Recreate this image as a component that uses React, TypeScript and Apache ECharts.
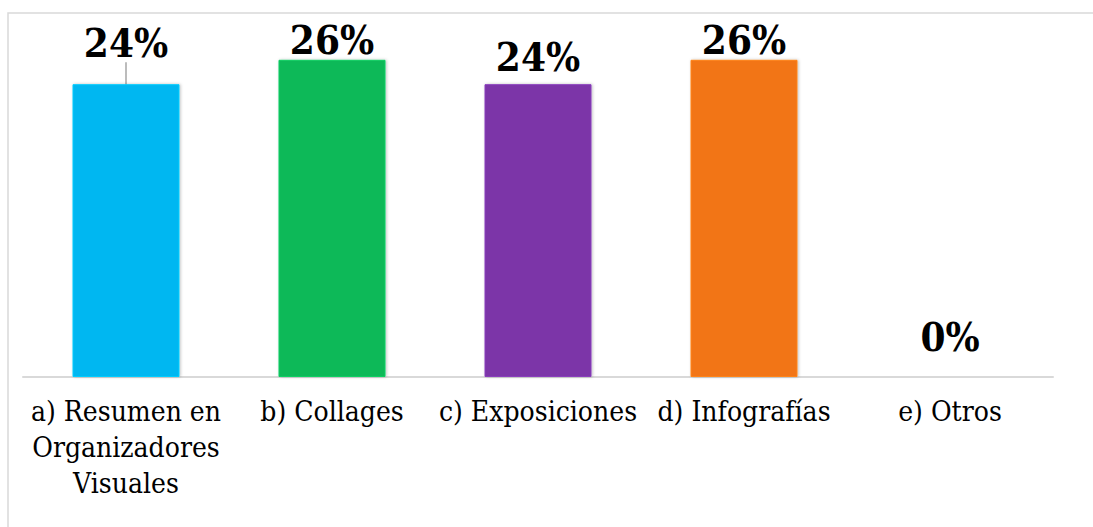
import React, { useEffect, useRef } from "react";
import * as echarts from "echarts";

const categories = [
  "a) Resumen en\nOrganizadores\nVisuales",
  "b) Collages",
  "c) Exposiciones",
  "d) Infografías",
  "e) Otros",
];
const values = [24, 26, 24, 26, 0];
const barColors = ["#00B7F1", "#0AB958", "#7B36A8", "#F27514"];

export default function App() {
  const ref = useRef<HTMLDivElement>(null);
  useEffect(() => {
    if (!ref.current) return;
    const chart = echarts.init(ref.current, null, { renderer: "svg" });
    const data = values.map((v, i) => ({
      value: v,
      itemStyle: {
        color: barColors[i % barColors.length],
        borderColor: echarts.color.lift(barColors[i % barColors.length], -0.12),
        borderWidth: 1,
        shadowColor: "rgba(0,0,0,0.25)",
        shadowBlur: 3,
        shadowOffsetX: 1,
      },
      label: { distance: v === 0 ? 20 : v >= 26 ? 0 : 8 },
      labelLine: { show: i === 0 },
    }));
    chart.setOption({
      animation: false,
      backgroundColor: "#ffffff",
      graphic: [
        {
          type: "rect",
          shape: { x: 8, y: 13, width: 1200, height: 700 },
          style: { fill: "none", stroke: "#d9d9d9", lineWidth: 1.5 },
          silent: true,
        },
      ],
      grid: { left: 23, right: 40, top: 11, bottom: 150 },
      xAxis: {
        type: "category",
        data: categories,
        axisLine: { show: true, lineStyle: { color: "#d9d9d9", width: 2 } },
        axisTick: { show: false },
        axisLabel: {
          interval: 0,
          margin: 16,
          color: "#000",
          fontFamily: "DejaVu Serif Condensed",
          fontSize: 28,
          lineHeight: 36,
        },
      },
      yAxis: {
        type: "value",
        min: 0,
        max: 30,
        show: false,
        splitLine: { show: false },
      },
      series: [
        {
          type: "bar",
          data,
          barWidth: 107,
          label: {
            show: true,
            position: "top",
            formatter: (p: any) => `${p.value}%`,
            color: "#000",
            fontFamily: "DejaVu Serif Condensed",
            fontWeight: "bold",
            fontSize: 40,
          },
          labelLayout: (p: any) => (p.dataIndex === 0 ? { dy: -14 } : {}),
          labelLine: { show: false, length2: 0, lineStyle: { color: "#a6a6a6", width: 1.5 } },
        },
      ],
    });
    return () => chart.dispose();
  }, []);
  return (
    <div
      ref={ref}
      style={{ position: "fixed", left: 0, top: 0, width: 1093, height: 527 }}
    />
  );
}
